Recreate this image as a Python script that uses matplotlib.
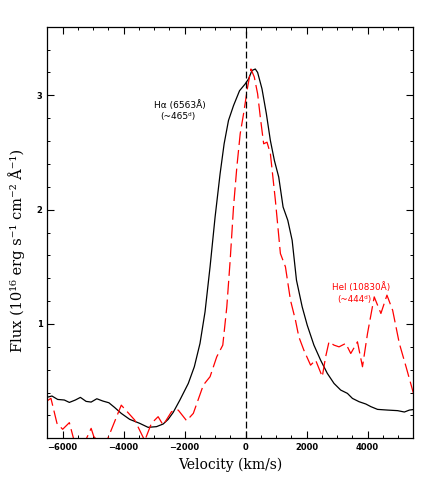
import matplotlib
matplotlib.use('Agg')
import matplotlib.pyplot as plt
from matplotlib.ticker import MultipleLocator

# H-alpha profile (black, solid)
ha_vel = [-6524, -6348, -6160, -5942, -5777, -5580, -5415, -5228, -5063, -4877,
          -4679, -4481, -4294, -4075, -3800, -3471, -3196, -2921, -2702, -2537,
          -2372, -2153, -1878, -1680, -1494, -1329, -1164, -999, -835, -703,
          -560, -395, -198, -11, 99, 209, 319, 395, 538, 681,
          813, 945, 1087, 1230, 1384, 1527, 1669, 1856, 2021, 2241,
          2460, 2680, 2900, 3119, 3339, 3504, 3723, 3943, 4108, 4327,
          4657, 4986, 5206, 5371, 5535]
ha_flux = [0.358, 0.37, 0.34, 0.335, 0.314, 0.335, 0.358, 0.323, 0.317, 0.346,
           0.326, 0.311, 0.27, 0.218, 0.166, 0.131, 0.096, 0.102, 0.125, 0.166,
           0.227, 0.335, 0.48, 0.626, 0.83, 1.106, 1.5, 1.936, 2.314, 2.576,
           2.78, 2.91, 3.04, 3.1, 3.144, 3.217, 3.23, 3.2, 3.057, 2.84,
           2.605, 2.43, 2.285, 2.023, 1.907, 1.732, 1.383, 1.15, 0.99, 0.815,
           0.684, 0.568, 0.48, 0.422, 0.393, 0.349, 0.32, 0.3, 0.277, 0.253,
           0.247, 0.242, 0.23, 0.247, 0.253]

# HeI 10830 profile (red, dashed)
he_vel = [-6547, -6381, -6183, -5997, -5777, -5612, -5300, -5063, -4975, -4750,
          -4514, -4075, -3635, -3306, -3086, -2867, -2702, -2427, -2208, -1933,
          -1713, -1384, -1164, -945, -747, -615, -505, -395, -286, -176,
          -66, 66, 176, 286, 395, 483, 593, 703, 813, 978,
          1142, 1307, 1472, 1636, 1746, 1911, 2131, 2296, 2515, 2625,
          2735, 2900, 3064, 3284, 3449, 3668, 3833, 3998, 4218, 4437,
          4635, 4822, 5041, 5261, 5535]
he_flux = [0.32, 0.35, 0.131, 0.079, 0.137, -0.03, -0.05, 0.087, 0.015, -0.05,
           0.0, 0.29, 0.16, -0.02, 0.131, 0.189, 0.116, 0.233, 0.247, 0.154,
           0.218, 0.466, 0.539, 0.713, 0.815, 1.15, 1.557, 2.023, 2.373, 2.664,
           2.838, 3.07, 3.23, 3.16, 3.013, 2.81, 2.576, 2.59, 2.49, 2.08,
           1.616, 1.5, 1.208, 1.033, 0.888, 0.771, 0.64, 0.684, 0.539, 0.713,
           0.844, 0.815, 0.8, 0.83, 0.742, 0.844, 0.626, 0.917, 1.237, 1.092,
           1.252, 1.12, 0.83, 0.626, 0.364]

fig = plt.figure(figsize=(4.36, 4.91), dpi=100)
ax = fig.add_axes([0.1085, 0.1073, 0.8395, 0.8383])

ax.plot(ha_vel, ha_flux, color='black', lw=0.9)
line, = ax.plot(he_vel, he_flux, color='red', lw=0.9)
line.set_dashes([11, 4])
ax.axvline(0, color='black', lw=0.9, dashes=(5.5, 2.5))

ax.set_xlim(-6500, 5500)
ax.set_ylim(0, 3.6)
ax.xaxis.set_major_locator(MultipleLocator(2000))
ax.xaxis.set_minor_locator(MultipleLocator(500))
ax.set_yticks([1, 2, 3])
ax.set_yticks([y / 5 for y in range(1, 18)], minor=True)
ax.tick_params(which='both', direction='in', top=True, right=True, labelsize=6)
ax.tick_params(which='major', length=5, width=0.8)
ax.tick_params(which='minor', length=2.5, width=0.7)
for lab in ax.get_xticklabels() + ax.get_yticklabels():
    lab.set_fontweight('bold')
for s in ax.spines.values():
    s.set_linewidth(0.9)

ax.set_xlabel('Velocity (km/s)', family='DejaVu Serif', fontsize=10, labelpad=4)
ax.set_ylabel('Flux (10¹⁶ erg s⁻¹ cm⁻² Å⁻¹)', family='DejaVu Serif', fontsize=10.5)
ax.yaxis.set_label_coords(-0.061, 0.457)

ax.text(-3007, 2.917, 'Hα (6563Å)', fontsize=6.5, va='center', ha='left')
ax.text(-2787, 2.815, '(~465ᵈ)', fontsize=6.5, va='center', ha='left')
ax.text(2823, 1.319, 'HeI (10830Å)', fontsize=6.3, va='center', ha='left', color='red')
ax.text(3009, 1.217, '(~444ᵈ)', fontsize=6.3, va='center', ha='left', color='red')

fig.savefig('out.png', dpi=100)
